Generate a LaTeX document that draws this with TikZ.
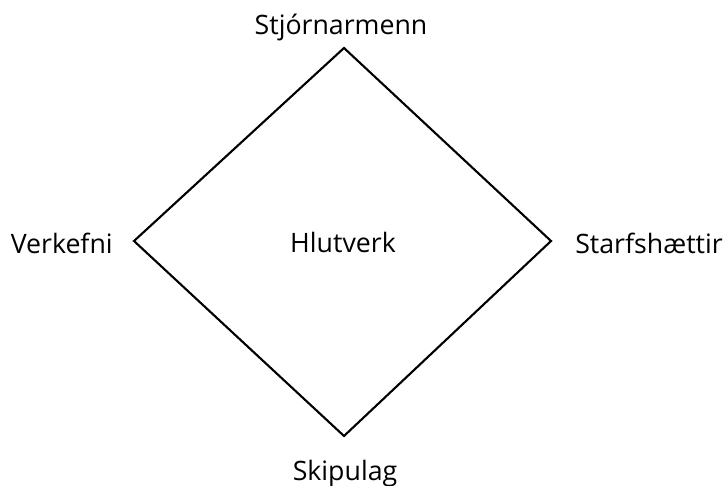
\documentclass[tikz,border=0pt]{standalone}
\usepackage{fontspec}
\setmainfont{Open Sans}
\usepackage{tikz}

\begin{document}
\begin{tikzpicture}[x=0.025cm,y=-0.025cm]
\useasboundingbox (0,0) rectangle (727,485);
\tikzset{lbl/.style={font=\fontsize{19}{22}\selectfont, inner sep=0pt}}
\coordinate (top) at (344,48);
\coordinate (right) at (551,241);
\coordinate (bottom) at (344,436);
\coordinate (left) at (134,241);
\draw[line width=1.5pt, line join=miter] (top) -- (right) -- (bottom) -- (left) -- cycle;
\node[lbl, anchor=base] (a) at (341,35) {Stjórnarmenn};
\node[lbl, anchor=base east] (b) at (113,253) {Verkefni};
\node[lbl, anchor=base west] (c) at (575,253) {Starfshættir};
\node[lbl, anchor=base] (d) at (345,480) {Skipulag};
\node[lbl, anchor=base] (e) at (343,252) {Hlutverk};
\end{tikzpicture}
\end{document}
